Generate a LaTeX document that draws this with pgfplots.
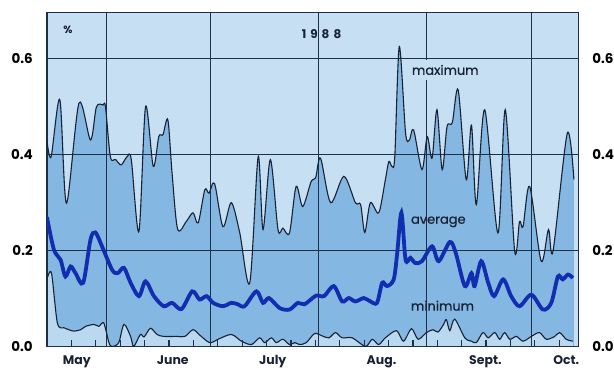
\documentclass[border=0pt]{standalone}
\usepackage{pgfplots}
\pgfplotsset{compat=1.18}
\usepackage{pgfplotstable}
\usepackage{fontspec}
\setmainfont{Poppins}
\newfontfamily\medfont{Poppins}[FakeBold=0.6]

\definecolor{skybg}{RGB}{198,223,242}
\definecolor{bandbg}{RGB}{132,184,226}
\definecolor{lowbg}{RGB}{186,216,240}
\definecolor{avgblue}{RGB}{18,46,176}
\definecolor{inkline}{RGB}{24,34,52}
\definecolor{gridink}{RGB}{30,48,72}

% day index (0 = 15 May 1988) and daily value in per cent
\pgfplotstableread{
d v
0 0.43
1.2 0.396
3.7 0.515
5.6 0.299
9.2 0.508
12.5 0.431
14.2 0.50
16.1 0.504
16.8 0.50
18.2 0.396
19.7 0.39
21.3 0.379
23.0 0.396
24.2 0.39
26.4 0.24
28.3 0.50
30.5 0.376
32.1 0.438
33.3 0.442
34.7 0.473
35.9 0.362
37.5 0.245
40.0 0.261
41.9 0.279
43.4 0.258
45.3 0.327
46.5 0.32
48.1 0.34
50.5 0.25
52.9 0.30
55.3 0.238
58.2 0.133
60.6 0.396
62.0 0.244
64.1 0.39
66.3 0.244
67.7 0.247
69.6 0.237
71.5 0.334
73.4 0.292
75.8 0.344
77.1 0.352
78.5 0.393
81.4 0.30
85.2 0.355
88.5 0.30
90.0 0.296
91.2 0.238
92.8 0.30
95.2 0.279
97.1 0.348
98.1 0.386
99.0 0.376
99.8 0.396
101.1 0.626
102.9 0.445
104.0 0.431
105.2 0.452
107.6 0.369
109.1 0.438
110.5 0.393
111.9 0.494
113.4 0.369
114.8 0.459
116.3 0.467
118.0 0.535
120.3 0.348
121.8 0.462
123.2 0.296
125.6 0.494
129.4 0.237
131.5 0.494
134.2 0.199
135.6 0.261
136.6 0.25
138.5 0.334
141.8 0.178
143.9 0.244
145.2 0.199
149.3 0.445
151.2 0.348
}\maxdata

\pgfplotstableread{
d v
0 0.27
2.0 0.202
3.9 0.181
5.3 0.146
6.8 0.167
8.2 0.153
10.4 0.133
12.5 0.223
13.9 0.238
15.8 0.209
18.7 0.16
20.3 0.153
22.1 0.164
24.0 0.133
26.4 0.105
28.3 0.136
30.7 0.105
33.5 0.084
35.9 0.091
38.6 0.078
41.7 0.115
43.8 0.098
45.8 0.105
47.7 0.091
50.5 0.084
52.9 0.091
54.8 0.088
56.7 0.084
60.1 0.115
62.0 0.091
63.7 0.101
66.8 0.08
69.6 0.077
72.0 0.091
73.9 0.088
77.2 0.106
79.5 0.105
82.3 0.126
84.7 0.094
86.6 0.101
88.5 0.094
90.9 0.101
92.8 0.094
94.7 0.091
96.2 0.133
97.6 0.126
99.5 0.14
100.5 0.195
101.7 0.279
102.9 0.181
104.3 0.185
105.7 0.174
107.6 0.178
110.5 0.209
112.4 0.178
115.6 0.218
117.3 0.195
119.9 0.126
121.8 0.153
122.7 0.126
124.6 0.178
126.6 0.133
128.3 0.105
130.9 0.14
133.2 0.105
135.6 0.084
139.0 0.108
142.3 0.077
144.7 0.091
146.6 0.146
148.0 0.14
149.5 0.15
150.9 0.143
}\avgdata

\pgfplotstableread{
d v
0 0.14
1.3 0.153
3.0 0.049
4.9 0.039
6.3 0.035
7.7 0.032
9.7 0.035
11.1 0.042
13.5 0.046
14.9 0.042
16.3 0.049
17.8 0.008
18.7 0.0
20.6 0.008
22.1 0.046
24.0 0.021
24.9 0.0
26.8 0.025
27.9 0.02
29.7 0.038
31.6 0.025
33.5 0.021
37.3 0.021
39.6 0.021
41.9 0.035
43.8 0.024
46.7 0.008
49.1 0.015
52.9 0.025
55.8 0.011
58.7 0.004
61.0 0.018
62.5 0.008
64.4 0.018
65.8 0.008
67.7 0.015
69.6 0.004
71.1 0.008
72.5 0.004
74.4 0.008
76.8 0.027
79.0 0.022
80.9 0.018
82.8 0.029
84.7 0.018
87.6 0.018
91.4 0.0
93.3 0.015
95.2 0.004
97.1 0.018
100.3 0.033
102.3 0.011
104.6 0.037
106.5 0.015
108.9 0.029
110.8 0.035
112.2 0.03
113.8 0.046
114.6 0.056
115.6 0.033
117.0 0.057
119.9 0.018
121.8 0.011
123.2 0.008
125.1 0.029
126.6 0.018
128.5 0.029
129.9 0.015
131.3 0.029
132.8 0.015
134.7 0.021
136.6 0.011
139.0 0.021
141.3 0.029
143.3 0.015
145.7 0.021
147.1 0.029
149.0 0.015
150.9 0.011
}\mindata

\begin{document}
\begin{tikzpicture}
\begin{axis}[
  at={(47pt,24pt)}, anchor=south west,
  scale only axis, width=532pt, height=334.5pt,
  xmin=0, xmax=152.4, ymin=0, ymax=0.697,
  set layers, clip mode=individual,
  axis background/.style={fill=skybg},
  axis line style={gridink, line width=1.2pt},
  % month boundaries carry the vertical grid lines
  xtick={17,47,78,109,139}, xticklabels={},
  xmajorgrids=true,
  major tick length=0pt,
  ytick={0,0.2,0.4,0.6},
  ymajorgrids=true,
  tick style={draw=none},
  grid style={gridink, line width=1.1pt},
  yticklabel style={font=\bfseries\fontsize{13.5}{14}\selectfont, anchor=east, inner sep=0pt, xshift=-14pt,
    /pgf/number format/.cd, fixed, fixed zerofill, precision=1, assume math mode=true},
]
\addplot[draw=none, fill=bandbg, smooth, on layer=axis background] table {\maxdata} \closedcycle;
\addplot[draw=none, fill=lowbg, smooth, on layer=axis background] table {\mindata} \closedcycle;
\addplot[inkline, line width=1.1pt, smooth] table {\maxdata};
\addplot[inkline, line width=1.1pt, smooth] table {\mindata};
\addplot[avgblue, line width=3.8pt, smooth] table {\avgdata};
% weekly tick marks along the bottom edge
\pgfplotsinvokeforeach{7,14,...,147}{
  \draw[gridink, line width=1.2pt] (axis cs:#1,0) -- ++(0pt,6.5pt);
}
\node[fill=skybg, inner xsep=3pt, inner ysep=5pt, font=\medfont\fontsize{13}{14}\selectfont, text=inkline] at (axis cs:114.3,0.577) {maximum};
\node[font=\medfont\fontsize{13}{14}\selectfont, text=inkline] at (axis cs:112.3,0.26) {average};
\node[font=\medfont\fontsize{13}{14}\selectfont, text=inkline] at (axis cs:113.5,0.085) {minimum};
\node[font=\bfseries\fontsize{12}{13}\selectfont, text=inkline] at (axis cs:78.8,0.652) {1\hspace{4pt}9\hspace{4pt}8\hspace{4pt}8};
\node[font=\bfseries\fontsize{10.5}{11}\selectfont, text=inkline] at (axis cs:6.0,0.66) {\%};
\end{axis}
% month names and the right-hand scale
\begin{axis}[
  at={(47pt,24pt)}, anchor=south west,
  scale only axis, width=532pt, height=334.5pt,
  xmin=0, xmax=152.4, ymin=0, ymax=0.697,
  axis x line*=bottom, axis y line*=right,
  x axis line style={draw=none}, y axis line style={draw=none},
  major tick length=0pt, tick style={draw=none},
  xtick={8.6,36.1,64.8,96,125.8,149},
  xticklabels={May,June,July,Aug.,Sept.,Oct.},
  xticklabel style={font=\bfseries\fontsize{12.5}{13}\selectfont, anchor=base, inner sep=0pt, yshift=-18pt, text=inkline},
  ytick={0,0.2,0.4,0.6},
  yticklabel style={font=\bfseries\fontsize{13.5}{14}\selectfont, anchor=west, inner sep=0pt, xshift=14pt,
    /pgf/number format/.cd, fixed, fixed zerofill, precision=1, assume math mode=true},
]
\addplot[draw=none] table {\avgdata};
\end{axis}
\path (0,0) rectangle (614pt,371pt);
\end{tikzpicture}
\end{document}
